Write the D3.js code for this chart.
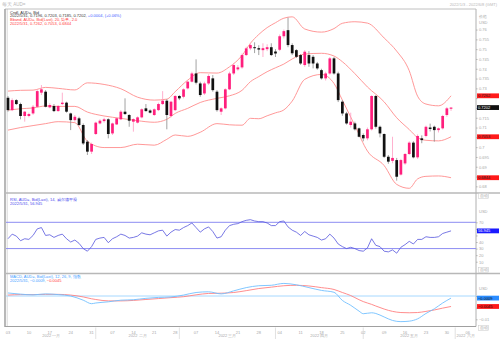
<!DOCTYPE html>
<html><head><meta charset="utf-8">
<script src="https://cdn.jsdelivr.net/npm/d3@7/dist/d3.min.js"></script>
<style>
html,body{margin:0;padding:0;background:#fff}
svg{display:block}
text{font-family:"Liberation Sans",Arial,sans-serif}
</style></head><body>
<svg id="chart" width="500" height="340"></svg>
<script>
// Daily AUD= bid candles, 2022-01-03 .. 2022-05-31
const open  = [0.7252,0.7189,0.7240,0.7220,0.7159,0.7159,0.7172,0.7206,0.7278,0.7283,0.7203,0.7210,0.7184,0.7220,0.7227,0.7172,0.7138,0.7147,0.7113,0.7028,0.6977,0.7067,0.7121,0.7133,0.7142,0.7070,0.7116,0.7142,0.7181,0.7164,0.7130,0.7125,0.7152,0.7198,0.7187,0.7164,0.7189,0.7220,0.7237,0.7159,0.7189,0.7261,0.7257,0.7300,0.7334,0.7376,0.7325,0.7274,0.7325,0.7351,0.7283,0.7181,0.7198,0.7295,0.7376,0.7397,0.7407,0.7470,0.7504,0.7510,0.7505,0.7495,0.7500,0.7510,0.7488,0.7497,0.7566,0.7597,0.7521,0.7495,0.7470,0.7419,0.7470,0.7461,0.7427,0.7393,0.7351,0.7376,0.7453,0.7376,0.7232,0.7172,0.7113,0.7121,0.7096,0.7062,0.7045,0.7091,0.7261,0.7104,0.7067,0.6951,0.6930,0.6934,0.6860,0.6917,0.6965,0.7023,0.6948,0.7045,0.7057,0.7100,0.7104,0.7087,0.7096,0.7164,0.7196];
const high  = [0.7261,0.7249,0.7245,0.7227,0.7184,0.7176,0.7215,0.7295,0.7317,0.7291,0.7224,0.7220,0.7215,0.7278,0.7232,0.7176,0.7164,0.7155,0.7121,0.7036,0.7023,0.7130,0.7142,0.7150,0.7147,0.7125,0.7152,0.7189,0.7249,0.7169,0.7147,0.7157,0.7198,0.7220,0.7193,0.7198,0.7227,0.7286,0.7245,0.7237,0.7266,0.7266,0.7300,0.7340,0.7385,0.7448,0.7334,0.7334,0.7372,0.7368,0.7291,0.7203,0.7300,0.7385,0.7427,0.7419,0.7478,0.7512,0.7530,0.7535,0.7520,0.7530,0.7525,0.7530,0.7500,0.7575,0.7600,0.7661,0.7530,0.7500,0.7475,0.7495,0.7490,0.7470,0.7435,0.7400,0.7385,0.7460,0.7460,0.7385,0.7240,0.7180,0.7176,0.7130,0.7100,0.7070,0.7100,0.7265,0.7266,0.7110,0.7070,0.6960,0.7053,0.6945,0.6940,0.6970,0.7030,0.7030,0.7065,0.7060,0.7110,0.7120,0.7110,0.7100,0.7165,0.7205,0.7203];
const low   = [0.7181,0.7184,0.7215,0.7142,0.7130,0.7152,0.7165,0.7203,0.7266,0.7203,0.7198,0.7179,0.7181,0.7215,0.7176,0.7087,0.7130,0.7108,0.7011,0.6960,0.6965,0.7062,0.7116,0.7125,0.7045,0.7062,0.7113,0.7138,0.7164,0.7104,0.7079,0.7121,0.7147,0.7181,0.7172,0.7159,0.7184,0.7215,0.7091,0.7152,0.7184,0.7240,0.7249,0.7295,0.7330,0.7320,0.7257,0.7266,0.7317,0.7283,0.7181,0.7164,0.7193,0.7291,0.7368,0.7390,0.7400,0.7465,0.7495,0.7480,0.7470,0.7460,0.7490,0.7465,0.7460,0.7490,0.7555,0.7510,0.7470,0.7455,0.7420,0.7410,0.7410,0.7402,0.7395,0.7345,0.7340,0.7370,0.7370,0.7230,0.7160,0.7115,0.7100,0.7085,0.7050,0.7030,0.7035,0.7085,0.7095,0.7050,0.6945,0.6915,0.6918,0.6829,0.6855,0.6910,0.6960,0.6943,0.6940,0.7020,0.7050,0.7080,0.7028,0.7075,0.7090,0.7155,0.7185];
const close = [0.7189,0.7240,0.7220,0.7159,0.7181,0.7169,0.7206,0.7286,0.7295,0.7206,0.7215,0.7184,0.7210,0.7227,0.7181,0.7138,0.7155,0.7113,0.7019,0.6977,0.7016,0.7125,0.7135,0.7142,0.7067,0.7121,0.7147,0.7181,0.7169,0.7135,0.7143,0.7152,0.7193,0.7184,0.7176,0.7193,0.7220,0.7237,0.7164,0.7232,0.7261,0.7249,0.7295,0.7334,0.7376,0.7329,0.7266,0.7325,0.7363,0.7291,0.7189,0.7198,0.7295,0.7376,0.7419,0.7407,0.7470,0.7504,0.7521,0.7505,0.7498,0.7505,0.7510,0.7470,0.7478,0.7566,0.7592,0.7521,0.7479,0.7461,0.7427,0.7487,0.7427,0.7427,0.7402,0.7351,0.7376,0.7453,0.7376,0.7240,0.7172,0.7121,0.7130,0.7091,0.7053,0.7045,0.7091,0.7261,0.7104,0.7070,0.6951,0.6926,0.6945,0.6849,0.6934,0.6965,0.7023,0.6948,0.7057,0.7036,0.7104,0.7093,0.7087,0.7096,0.7159,0.7198,0.7202];

// Bollinger (20, 2.0) read at these trading-day positions
const bandDays = [0,3,6,9,12,16,19,23,27,31,35,38,40,43,46,50,53,56,58,60,62,64,66,68,71,75,78,80,83,86,90,93,96,98,100,103,106];
const bandUpper = [0.7286,0.7290,0.7291,0.7305,0.7300,0.7292,0.7328,0.7320,0.7298,0.7255,0.7240,0.7245,0.7283,0.7342,0.7380,0.7378,0.7410,0.7468,0.7530,0.7575,0.7610,0.7635,0.7658,0.7665,0.7603,0.7587,0.7605,0.7632,0.7640,0.7633,0.7557,0.7490,0.7390,0.7260,0.7220,0.7211,0.7262];
const bandMid   = [0.7189,0.7196,0.7200,0.7210,0.7208,0.7208,0.7179,0.7159,0.7147,0.7135,0.7127,0.7142,0.7172,0.7198,0.7228,0.7249,0.7262,0.7290,0.7334,0.7360,0.7385,0.7405,0.7424,0.7450,0.7475,0.7479,0.7465,0.7436,0.7375,0.7307,0.7231,0.7150,0.7090,0.7049,0.7035,0.7032,0.7053];
const bandLower = [0.7087,0.7100,0.7110,0.7120,0.7130,0.7125,0.7030,0.6998,0.6998,0.7015,0.7010,0.7040,0.7062,0.7055,0.7076,0.7120,0.7114,0.7112,0.7147,0.7145,0.7160,0.7175,0.7190,0.7235,0.7346,0.7371,0.7325,0.7240,0.7110,0.6980,0.6906,0.6810,0.6790,0.6838,0.6851,0.6853,0.6844];

// RSI (14, Wilder), one value per trading day
const rsi = [45,52,49,42,45,44,50,60,62,50,51,47,50,52,45,40,43,38,30,26,33,44,46,47,39,45,48,52,50,46,47,49,54,52,51,54,57,58,49,55,59,58,62,65,69,62,55,60,63,56,46,48,58,65,67,68,71,73,74,72,71,71,69,65,65,71,72,63,58,55,50,56,51,49,47,43,45,52,46,37,33,30,32,30,27,26,31,45,35,33,26,25,28,23,32,36,41,37,44,44,48,47,47,48,53,55,56.945];

// MACD (12, 26, 9) read at these trading-day positions
const macdDays = [0,3,6,9,12,15,18,20,21,24,27,30,33,36,39,42,45,48,51,54,57,60,63,66,69,72,75,78,80,82,84,85,87,88,90,92,94,96,98,100,102,104,106];
const macdLine = [0.0013,0.0008,0.0005,0.0009,0.0006,0.0000,-0.0018,-0.0033,-0.0030,-0.0025,-0.0018,-0.0016,-0.0010,-0.0006,-0.0004,0.0004,0.0015,0.0018,0.0009,0.0022,0.0036,0.0044,0.0046,0.0054,0.0048,0.0036,0.0024,0.0016,-0.0019,-0.0040,-0.0065,-0.0076,-0.0072,-0.0075,-0.0090,-0.0105,-0.0110,-0.0108,-0.0098,-0.0075,-0.0055,-0.0030,-0.0009];
const macdSignal = [0.0004,0.0006,0.0006,0.0007,0.0007,0.0004,-0.0004,-0.0012,-0.0015,-0.0021,-0.0021,-0.0019,-0.0015,-0.0011,-0.0007,-0.0003,0.0005,0.0011,0.0012,0.0015,0.0023,0.0032,0.0038,0.0044,0.0046,0.0043,0.0036,0.0028,0.0015,0.0002,-0.0016,-0.0024,-0.0036,-0.0043,-0.0056,-0.0066,-0.0071,-0.0072,-0.0071,-0.0066,-0.0060,-0.0052,-0.0045];

// Axis ticks and labels
const priceTicks = [0.68,0.685,0.69,0.695,0.70,0.705,0.71,0.715,0.72,0.725,0.73,0.735,0.74,0.745,0.75,0.755,0.76];
const rsiTicks = [10,20,30,40,50,60,70];
const macdTicks = [-0.01,-0.005,0];
const monthLabels = ["2022 一月","2022 二月","2022 三月","2022 四月","2022 五月","2022 六月"];

const fmtPrice = d3.format(".4f");
const svg = d3.select("#chart");
const FS = 4;
const axisGrey = "#a8a8a8";
const upColor = "#ff1f7d", upWick = "#ff9cc2";
const downColor = "#111111", downWick = "#8a8a8a";

// trading days (weekdays) 2022-01-03 .. 2022-06-08
const days = d3.timeDay.range(new Date(2022,0,3), new Date(2022,5,9)).filter(d => d.getDay() !== 0 && d.getDay() !== 6);

const x = d3.scaleBand().domain(d3.range(days.length)).range([5.9, 478.2]).paddingInner(0.35).paddingOuter(0.175);
const cx = i => x(i) + x.bandwidth() / 2;

const P = {left: 6, right: 476};
const main = {top: 9, bottom: 193};
const rsiP = {top: 193, bottom: 273.5};
const macdP = {top: 273.5, bottom: 326.5};

const yMain = d3.scaleLinear().domain([0.6766, 0.7705]).range([main.bottom, main.top]);
const yRsi = d3.scaleLinear().domain([0, 100]).range([268.3, 202.6]);
const yMacd = d3.scaleLinear().domain([-0.01, 0]).range([319.3, 296]);

const defs = svg.append("defs");
[["clipMain", main], ["clipRsi", rsiP], ["clipMacd", macdP]].forEach(([id, p]) => {
  defs.append("clipPath").attr("id", id).append("rect")
    .attr("x", P.left).attr("y", p.top).attr("width", P.right - P.left).attr("height", p.bottom - p.top);
});

// header
svg.append("text").attr("x", 2).attr("y", 5.5).attr("font-size", 4.5).attr("fill", "#b8b8b8").text("每天 AUD=");
svg.append("text").attr("x", 497).attr("y", 6).attr("font-size", FS).attr("fill", "#b8b8b8").attr("text-anchor", "end").text("2022/1/3 - 2022/6/8 (GMT)");

// frame
const frame = svg.append("g");
frame.append("line").attr("x1", 5).attr("x2", 5).attr("y1", 9).attr("y2", 327).attr("stroke", "#9a9a9a").attr("stroke-width", 1.4);
frame.append("line").attr("x1", 7.2).attr("x2", 7.2).attr("y1", 9).attr("y2", 327).attr("stroke", "#c8c8c8").attr("stroke-width", 0.7);
frame.append("line").attr("x1", 5).attr("x2", P.right).attr("y1", 9).attr("y2", 9).attr("stroke", "#b0b0b0").attr("stroke-width", 0.8);
[main.bottom, rsiP.bottom].forEach(yy => {
  frame.append("line").attr("x1", 5).attr("x2", 500).attr("y1", yy).attr("y2", yy).attr("stroke", "#b8b8b8").attr("stroke-width", 1.6);
});

// ---- main panel: Bollinger bands
const gMain = svg.append("g").attr("clip-path", "url(#clipMain)");
const bandLine = d3.line().x((d, k) => cx(bandDays[k])).y(d => yMain(d)).curve(d3.curveMonotoneX);
[bandUpper, bandMid, bandLower].forEach(arr => {
  gMain.append("path").attr("d", bandLine(arr)).attr("fill", "none").attr("stroke", "#ff8c8c").attr("stroke-width", 0.9);
});

// candles
const idx = d3.range(close.length);
const isUp = i => close[i] >= open[i];
gMain.selectAll("line.wick").data(idx).join("line").attr("class", "wick")
  .attr("x1", cx).attr("x2", cx)
  .attr("y1", i => yMain(high[i])).attr("y2", i => yMain(low[i]))
  .attr("stroke", i => isUp(i) ? upWick : downWick).attr("stroke-width", 0.8);
gMain.selectAll("rect.body").data(idx).join("rect").attr("class", "body")
  .attr("x", i => x(i)).attr("width", x.bandwidth())
  .attr("y", i => yMain(Math.max(open[i], close[i])))
  .attr("height", i => Math.max(0.8, Math.abs(yMain(open[i]) - yMain(close[i]))))
  .attr("fill", i => isUp(i) ? upColor : downColor);

// main legend
const leg = svg.append("g").attr("font-size", FS);
leg.append("text").attr("x", 10).attr("y", 13.6).attr("fill", "#333").text("Cndl, AUD=, Bid");
const l2 = leg.append("text").attr("x", 10).attr("y", 17.3).attr("fill", "#333");
const last = close.length - 1;
l2.append("tspan").text(`2022/5/31, ${fmtPrice(open[last])}, ${fmtPrice(high[last])}, ${fmtPrice(low[last])}, ${fmtPrice(close[last])}, `);
l2.append("tspan").attr("fill", "#3d5bff").text(`+${fmtPrice(close[last] - close[last - 1])}, (+${d3.format(".2f")((close[last] / close[last - 1] - 1) * 100)}%)`);
leg.append("text").attr("x", 10).attr("y", 21).attr("fill", "#ff3b3b").text("Bband, AUD=, Bid(Last), 20, 简单, 2.0");
leg.append("text").attr("x", 10).attr("y", 24.6).attr("fill", "#ff3b3b")
  .text(`2022/5/31, ${fmtPrice(bandUpper[bandUpper.length-1])}, ${fmtPrice(bandMid[bandMid.length-1])}, ${fmtPrice(bandLower[bandLower.length-1])}`);

// right axes
function styleAxis(g) {
  g.select(".domain").attr("stroke", "#b0b0b0").attr("stroke-width", 1);
  g.selectAll(".tick line").attr("stroke", "#b0b0b0");
  g.selectAll(".tick text").attr("fill", axisGrey).attr("font-size", FS).attr("font-family", "Liberation Sans, Arial, sans-serif");
}
// hide tick labels sitting under a value flag
function clearUnder(axisG, scale, flagYs) {
  axisG.selectAll(".tick").filter(d => flagYs.some(fy => Math.abs(scale(d) - fy) < 4.8)).select("text").remove();
}

const axMain = svg.append("g").attr("transform", `translate(${P.right},0)`)
  .call(d3.axisRight(yMain).tickValues(priceTicks).tickSize(1.5).tickPadding(1.5).tickFormat(d3.format("~g")));
styleAxis(axMain);
axMain.select(".domain").attr("d", `M0,${main.top}V${main.bottom}`);
svg.append("text").attr("x", 479).attr("y", 18).attr("font-size", FS).attr("fill", axisGrey).text("价格");
svg.append("text").attr("x", 479).attr("y", 24).attr("font-size", FS).attr("fill", axisGrey).text("USD");

const axRsi = svg.append("g").attr("transform", `translate(${P.right},0)`)
  .call(d3.axisRight(yRsi).tickValues(rsiTicks).tickSize(1.5).tickPadding(1.5));
styleAxis(axRsi);
axRsi.select(".domain").attr("d", `M0,${rsiP.top}V${rsiP.bottom}`);

const axMacd = svg.append("g").attr("transform", `translate(${P.right},0)`)
  .call(d3.axisRight(yMacd).tickValues(macdTicks).tickSize(1.5).tickPadding(1.5).tickFormat(d3.format("~g")));
styleAxis(axMacd);
axMacd.select(".domain").attr("d", `M0,${macdP.top}V${macdP.bottom}`);

// value flags on the right scale
function flag(yy, txt, bg, fg) {
  const g = svg.append("g");
  g.append("rect").attr("x", 477).attr("y", yy - 2.4).attr("width", 22).attr("height", 4.8).attr("fill", bg);
  g.append("text").attr("x", 478).attr("y", yy + 1.5).attr("font-size", FS).attr("fill", fg).text(txt);
}
function autoBox(yy) {
  const g = svg.append("g");
  g.append("rect").attr("x", 478.5).attr("y", yy - 2.6).attr("width", 10).attr("height", 5).attr("fill", "#fff").attr("stroke", "#c8c8c8").attr("stroke-width", 0.5);
  g.append("text").attr("x", 479.5).attr("y", yy + 1.4).attr("font-size", FS).attr("fill", axisGrey).text("自动");
}
const mainFlags = [
  [bandUpper[bandUpper.length-1], "#ff1a1a", "#222"],
  [close[last], "#111", "#fff"],
  [bandMid[bandMid.length-1], "#ff1a1a", "#222"],
  [bandLower[bandLower.length-1], "#ff1a1a", "#222"]
];
clearUnder(axMain, yMain, mainFlags.map(f => yMain(f[0])));
mainFlags.forEach(([v, bg, fg]) => flag(yMain(v), fmtPrice(v), bg, fg));
autoBox(196);

// ---- RSI panel
const gRsi = svg.append("g").attr("clip-path", "url(#clipRsi)");
[70, 30].forEach(v => {
  gRsi.append("line").attr("x1", P.left).attr("x2", P.right).attr("y1", yRsi(v)).attr("y2", yRsi(v)).attr("stroke", "#8c8cf2").attr("stroke-width", 1);
});
gRsi.append("path").attr("d", d3.line().x((d, i) => cx(i)).y(d => yRsi(d))(rsi))
  .attr("fill", "none").attr("stroke", "#5555dd").attr("stroke-width", 0.8);
const rl = svg.append("g").attr("font-size", FS).attr("fill", "#4a4aee");
rl.append("text").attr("x", 10).attr("y", 201.3).text("RSI, AUD=, Bid(Last), 14, 威尔德平滑");
rl.append("text").attr("x", 10).attr("y", 204.9).text(`2022/5/31, ${d3.format(".3f")(rsi[rsi.length-1])}`);
svg.append("text").attr("x", 479).attr("y", 212.5).attr("font-size", FS).attr("fill", axisGrey).text("USD");
const rsiLast = rsi[rsi.length-1];
clearUnder(axRsi, yRsi, [yRsi(rsiLast)]);
flag(yRsi(rsiLast), d3.format(".3f")(rsiLast), "#1a1aff", "#fff");
autoBox(270);

// ---- MACD panel
const gMacd = svg.append("g").attr("clip-path", "url(#clipMacd)");
gMacd.append("line").attr("x1", P.left).attr("x2", P.right).attr("y1", yMacd(0)).attr("y2", yMacd(0)).attr("stroke", "#a6d8ff").attr("stroke-width", 1);
const macdPath = d3.line().x((d, k) => cx(macdDays[k])).y(d => yMacd(d)).curve(d3.curveMonotoneX);
gMacd.append("path").attr("d", macdPath(macdSignal)).attr("fill", "none").attr("stroke", "#ff8080").attr("stroke-width", 0.9);
gMacd.append("path").attr("d", macdPath(macdLine)).attr("fill", "none").attr("stroke", "#72c0ff").attr("stroke-width", 0.9);
const fmtM = d3.format(".4f");
const ml = svg.append("g").attr("font-size", FS);
ml.append("text").attr("x", 10).attr("y", 277.6).attr("fill", "#3d9dff").text("MACD, AUD=, Bid(Last), 12, 26, 9, 指数");
const ml2 = ml.append("text").attr("x", 10).attr("y", 281.9).attr("fill", "#3d9dff");
const mLast = macdLine[macdLine.length-1], sLast = macdSignal[macdSignal.length-1];
ml2.append("tspan").text(`2022/5/31, ${fmtM(mLast)}, `);
ml2.append("tspan").attr("fill", "#ff4040").text(fmtM(sLast));
svg.append("text").attr("x", 479).attr("y", 289.5).attr("font-size", FS).attr("fill", axisGrey).text("USD");
clearUnder(axMacd, yMacd, [yMacd(mLast), yMacd(sLast)]);
flag(yMacd(mLast), fmtM(mLast), "#2a8cff", "#111");
flag(yMacd(sLast), fmtM(sLast), "#ff1a1a", "#111");
autoBox(328);

// ---- x axis
const mondays = d3.range(days.length).filter(i => days[i].getDay() === 1);
const axX = svg.append("g").attr("transform", `translate(0,${macdP.bottom})`)
  .call(d3.axisBottom(x).tickValues(mondays).tickSize(0).tickPadding(4.5).tickFormat(i => d3.timeFormat("%d")(days[i])));
axX.select(".domain").attr("d", `M5,0H${P.right}`).attr("stroke", "#a0a0a0").attr("stroke-width", 1.2);
axX.selectAll(".tick text").attr("fill", axisGrey).attr("font-size", FS).attr("font-family", "Liberation Sans, Arial, sans-serif");

const monthStarts = d3.range(days.length).filter(i => i === 0 || days[i].getMonth() !== days[i - 1].getMonth());
const gm = svg.append("g");
monthStarts.forEach((s, k) => {
  const xs = k === 0 ? 7 : cx(s);
  const xe = k + 1 < monthStarts.length ? cx(monthStarts[k + 1]) : P.right;
  if (k > 0) gm.append("line").attr("x1", xs).attr("x2", xs).attr("y1", 327.5).attr("y2", 339).attr("stroke", "#cfcfcf").attr("stroke-width", 0.6);
  gm.append("text").attr("x", (xs + xe) / 2).attr("y", 337.3).attr("text-anchor", "middle").attr("font-size", FS).attr("fill", axisGrey).text(monthLabels[k]);
});
</script>
</body></html>
